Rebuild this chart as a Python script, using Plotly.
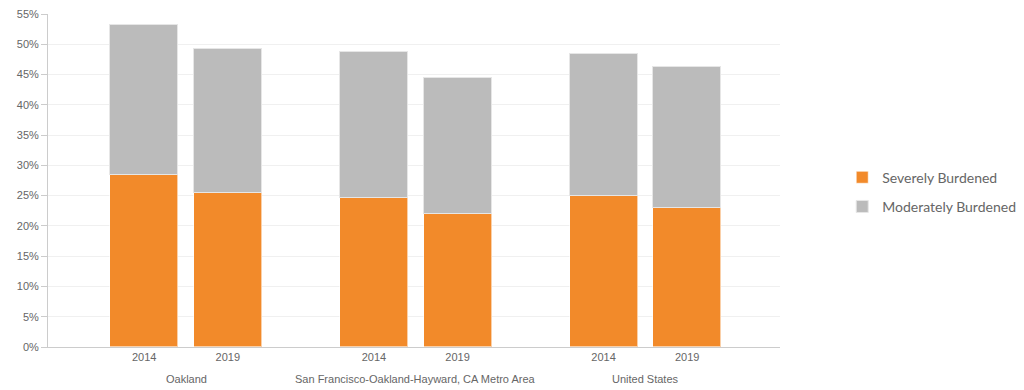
import plotly.graph_objects as go

groups = ["Oakland", "San Francisco-Oakland-Hayward, CA Metro Area", "United States"]
years = ["2014", "2019"]
severely = [28.4, 25.5, 24.6, 22.0, 25.0, 22.9]
moderately = [24.8, 23.7, 24.2, 22.4, 23.4, 23.3]
y_ticks = [0, 5, 10, 15, 20, 25, 30, 35, 40, 45, 50, 55]

offset = 0.182
bar_w = 0.296
xpos = []
xlab = []
for gi, g in enumerate(groups):
    for yi, yr in enumerate(years):
        xpos.append(gi + (-offset if yi == 0 else offset))
        xlab.append(yr)

fig = go.Figure()
fig.add_trace(go.Bar(x=xpos, y=severely, width=bar_w, name="Severely Burdened",
                     marker=dict(color="#F28A2A", line=dict(color="rgba(255,255,255,0.6)", width=1)),
                     legendgroup="a", hoverinfo="skip"))
fig.add_trace(go.Bar(x=xpos, y=moderately, width=bar_w, name="Moderately Burdened",
                     marker=dict(color="#BBBBBB", line=dict(color="rgba(230,230,230,1)", width=1)),
                     legendgroup="b", hoverinfo="skip"))

for gi, g in enumerate(groups):
    fig.add_annotation(x=gi, xref="x", y=0, yref="paper", yanchor="top", yshift=-24,
                       text=g, showarrow=False, font=dict(size=11, color="#666666"))

fig.update_layout(
    width=1024, height=390, barmode="stack",
    margin=dict(l=48, r=244, t=14, b=43, autoexpand=False),
    paper_bgcolor="white", plot_bgcolor="white",
    font=dict(family="Liberation Sans, Arial, sans-serif", size=11, color="#666666"),
    xaxis=dict(range=[-0.601, 2.586], tickvals=xpos, ticktext=xlab, showgrid=False,
               showline=True, linecolor="#cccccc", linewidth=1, ticks="", zeroline=False,
               automargin=False, tickfont=dict(size=11, color="#666666")),
    yaxis=dict(range=[0, 55], tickvals=y_ticks, ticktext=[f"{v}%" for v in y_ticks],
               showgrid=True, gridcolor="#f0f0f0", gridwidth=1, showline=True,
               linecolor="#cccccc", linewidth=1, ticks="outside", ticklen=6, tickcolor="#cccccc",
               zeroline=False, automargin=False, tickfont=dict(size=11, color="#666666")),
    legend=dict(x=1.085, xanchor="left", y=0.465, yanchor="middle", traceorder="grouped",
                tracegroupgap=8, font=dict(family="Lato, sans-serif", size=14, color="#666666")),
    bargap=0,
)

fig.write_html("out.html", config={"displayModeBar": False},
               post_script="document.body.style.margin='0';")
